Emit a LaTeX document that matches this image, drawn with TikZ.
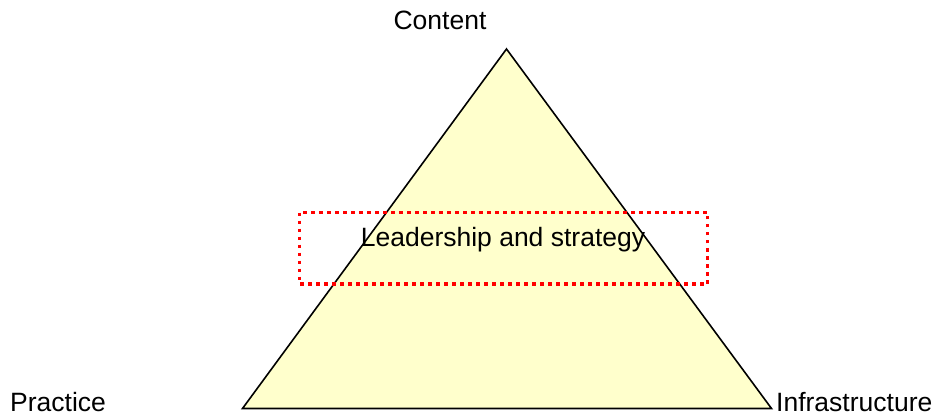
\documentclass[tikz,border=0pt]{standalone}
\usepackage{fontspec}
\setmainfont{Liberation Sans}
\definecolor{paleyellow}{HTML}{FFFFCC}
\definecolor{dotred}{HTML}{FF0000}
\begin{document}
\begin{tikzpicture}[x=1pt,y=-1pt,
  label text/.style={font=\fontsize{26.5}{30}\selectfont, inner sep=0pt, anchor=base},
  pyramid/.style={draw=black, line width=1.6pt, fill=paleyellow, line join=miter},
  focus box/.style={draw=dotred, line width=3.5pt, dash pattern=on 3.5pt off 4.5pt}]
  \useasboundingbox (0,0) rectangle (935,417);
  % corners of the triangle
  \coordinate (top) at (506.5,49);
  \coordinate (bl) at (242.5,408.5);
  \coordinate (br) at (771.5,408.5);
  \draw[pyramid] (top) -- (bl) -- (br) -- cycle;
  % dotted band across the middle
  \draw[focus box] (299.5,212.5) rectangle (707.5,284);
  \node[label text] (lead) at (503,246.5) {Leadership and strategy};
  % corner labels
  \node[label text] (content) at (440,30) {Content};
  \node[label text, anchor=base west] (practice) at (10,411.5) {Practice};
  \node[label text, anchor=base west] (infra) at (776,411.5) {Infrastructure};
\end{tikzpicture}
\end{document}
